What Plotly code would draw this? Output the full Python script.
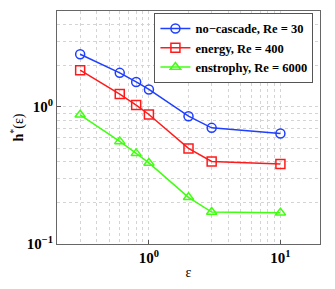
import plotly.graph_objects as go

eps = [0.3, 0.6, 0.8, 1.0, 2.0, 3.0, 10.0]
h_nocascade = [2.42, 1.77, 1.52, 1.34, 0.855, 0.703, 0.64]
h_energy = [1.85, 1.24, 1.03, 0.88, 0.498, 0.40, 0.383]
h_enstrophy = [0.875, 0.56, 0.458, 0.39, 0.219, 0.171, 0.169]
names = ["no\u2212cascade, Re = 30", "energy, Re = 400", "enstrophy, Re = 6000"]
colors = ["#1f3fff", "#ff1a1a", "#40ff10"]
symbols = ["circle-open", "square-open", "triangle-up-open"]

fig = go.Figure()
for y, n, c, s in zip([h_nocascade, h_energy, h_enstrophy], names, colors, symbols):
    fig.add_trace(go.Scatter(x=eps, y=y, name=n, mode="lines+markers",
                             line=dict(color=c, width=1.5),
                             marker=dict(symbol=s, size=9, color=c, line=dict(width=1.5, color=c))))

font = dict(family="Liberation Serif, Times New Roman, serif", color="black")
tickfont = dict(family="Liberation Serif", size=15, color="black")
grid = dict(showgrid=True, gridcolor="#d4d4d4", griddash="dot", gridwidth=1)

fig.update_layout(
    width=327, height=281,
    margin=dict(l=49, r=15, t=3, b=45),
    paper_bgcolor="white", plot_bgcolor="white",
    font=font,
    legend=dict(x=0.975, y=0.992, xanchor="right", yanchor="top",
                bordercolor="#555", borderwidth=1, bgcolor="white",
                font=dict(family="Liberation Serif", size=12.5, color="black", weight="bold"),
                tracegroupgap=0, itemwidth=30),
    xaxis=dict(type="log", range=[-0.699, 1.301], automargin=False,
               tickvals=[1, 10], ticktext=["<b>10<sup>0</sup></b>", "<b>10<sup>1</sup></b>"],
               tickfont=tickfont, ticks="inside", ticklen=4, tickcolor="#555",
               showline=True, linecolor="#666", linewidth=1, mirror=True,
               minor=dict(dtick="D1", ticks="", **grid), **grid,
               title=dict(text="ε", font=dict(family="Liberation Serif", size=14, color="black"), standoff=2),
               zeroline=False),
    yaxis=dict(type="log", range=[-1, 0.699], automargin=False,
               tickvals=[0.1, 1], ticktext=["<b>10<sup>\u22121</sup></b>", "<b>10<sup>0</sup></b>"],
               tickfont=tickfont, ticks="inside", ticklen=4, tickcolor="#555",
               showline=True, linecolor="#666", linewidth=1, mirror=True,
               minor=dict(dtick="D1", ticks="", **grid), **grid,
               title=dict(text="<b>h</b><sup>*</sup>(ε)", font=dict(family="Liberation Serif", size=14, color="black"), standoff=4),
               zeroline=False),
)
fig.write_html("out.html")
